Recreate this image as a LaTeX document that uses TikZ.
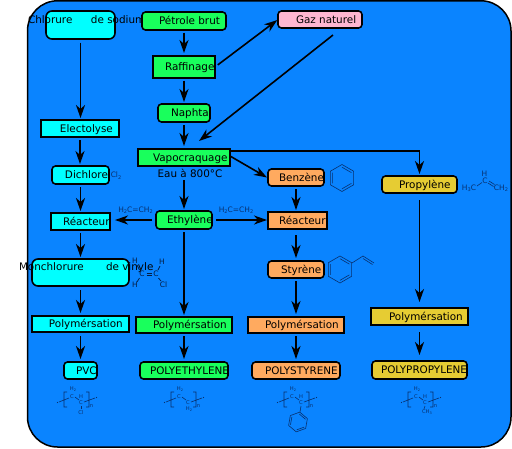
\documentclass[tikz,border=0pt]{standalone}
\usepackage{fontspec}
\setmainfont{DejaVu Sans}
\usetikzlibrary{arrows.meta}
\definecolor{bgblue}{HTML}{0A84FF}
\definecolor{vert}{HTML}{19FF5C}
\definecolor{cyanb}{HTML}{00FFFF}
\definecolor{orangeb}{HTML}{FFAA5F}
\definecolor{jaune}{HTML}{E6CC33}
\definecolor{rose}{HTML}{FFB6D0}
\definecolor{chemc}{HTML}{08306E}
\tikzset{
  x=1pt,y=-1pt,
  base/.style={draw=black,inner sep=0pt,outer sep=0pt,text height=7.3pt,text depth=0pt,font=\fontsize{10.4}{12}\selectfont,text=black},
  rbox/.style={base,line width=1.6pt,rounded corners=3.5pt},
  sbox/.style={base,line width=1.15pt},
  arr/.style={draw=black,line width=1.6pt,-{Stealth[length=13pt,width=9pt,inset=4pt]}},
  chem/.style={draw=chemc,line width=0.6pt},
  chemdark/.style={draw=chemc!60!black,line width=0.7pt},
  ctext/.style={inner sep=0pt,text=chemc,font=\fontsize{7.5}{8}\selectfont},
  cdark/.style={inner sep=0pt,text=chemc!60!black,font=\fontsize{7.5}{8}\selectfont},
  ptext/.style={inner sep=0pt,text=chemc,font=\fontsize{5.2}{6}\selectfont},
}
\newcommand\sbs[1]{\raisebox{-1.5pt}{\fontsize{5}{5}\selectfont #1}}
\newcommand\psbs[1]{\raisebox{-1pt}{\fontsize{3.5}{4}\selectfont #1}}
\newcommand\bx[8]{%
  \pgfmathsetmacro\bw{#4-#2}\pgfmathsetmacro\bh{#5-#3}\pgfmathsetmacro\bo{#7-#2}%
  \node[#6,minimum width=\bw pt,minimum height=\bh pt] (#1) at ({(#2+#4)/2},{(#3+#5)/2}) {\makebox[\bw pt][l]{\hspace{\bo pt}#8}};}
\newcommand\benz[4]{%
  \begin{scope}[shift={(#1,#2)},rotate=#4,scale=#3]
    \draw[chem] (90:1)--(30:1)--(-30:1)--(-90:1)--(-150:1)--(150:1)--cycle;
    \draw[chem] (150:.8)--(210:.8) (90:.8)--(30:.8) (-30:.8)--(-90:.8);
  \end{scope}}
\newcommand\polyb[3]{%
  \begin{scope}[shift={(#1,#2)}]
    \draw[chem] (-5,10)--(5,6) (3,0)--(0,0)--(0,15)--(3,15);
    \draw[chem] (22,0)--(25,0)--(25,15)--(22,15) (20,10)--(31,6);
    \draw[chem] (11,5)--(15,8);
    \fill[chemc] (-6.5,10.5) circle (.6) (32.5,5.5) circle (.6);
    \node[ptext] at (9,-3) {H\psbs{2}};
    \node[ptext] at (8,5) {C};
    \node[ptext] at (17,11) {C};
    \node[ptext] at (27.5,14) {n};
    #3
  \end{scope}}
\begin{document}
\begin{tikzpicture}
\useasboundingbox (0,0) rectangle (512,448);
\draw[fill=bgblue,draw=black,line width=1.5pt,rounded corners=30pt] (27.5,0.8) rectangle (511,447);

% boxes
\bx{chlorure}{46}{11}{115}{39}{rbox,fill=cyanb,rounded corners=6pt}{28}{\raisebox{5pt}{\makebox[63pt][l]{Chlorure}de sodium}}
\bx{petrole}{142}{12}{226}{30}{rbox,fill=vert}{159}{Pétrole brut}
\bx{raff}{153}{56}{215}{78}{sbox,fill=vert}{165}{Raffinage}
\bx{naphta}{158}{104}{210}{122}{rbox,fill=vert}{171}{Naphta}
\bx{vapo}{138}{149}{230}{166}{sbox,fill=vert}{153}{Vapocraquage}
\bx{elec}{41}{120}{119}{137}{sbox,fill=cyanb}{60}{Electolyse}
\bx{dichl}{52}{166}{109}{184}{rbox,fill=cyanb}{65}{Dichlore}
\bx{reacl}{51}{213}{110}{230}{sbox,fill=cyanb}{63}{Réacteur}
\bx{ethyl}{156}{211}{212}{229}{rbox,fill=vert}{167}{Ethylène}
\bx{gaz}{278}{11}{362}{28}{rbox,fill=rose}{296}{Gaz naturel}
\bx{benz}{268}{169}{324}{186}{rbox,fill=orangeb}{279}{Benzène}
\bx{reacm}{268}{212}{327}{229}{sbox,fill=orangeb}{279}{Réacteur}
\bx{prop}{382}{176}{457}{193}{rbox,fill=jaune}{399}{Propylène}
\bx{styr}{268}{261}{324}{278}{rbox,fill=orangeb}{281}{Styrène}
\bx{polyo}{248}{317}{344}{333}{sbox,fill=orangeb}{265}{Polymérsation}
\bx{ps}{252}{362}{340}{379}{rbox,fill=orangeb}{265}{POLYSTYRENE}
\bx{polyy}{371}{308}{468}{325}{sbox,fill=jaune}{389}{Polymérsation}
\bx{pp}{372}{361}{467}{379}{rbox,fill=jaune}{381}{POLYPROPYLENE}
\bx{mono}{32}{259}{129}{286}{rbox,fill=cyanb,rounded corners=6pt}{19}{\raisebox{5.5pt}{\makebox[87pt][l]{Monchlorure}de vinyle}}
\bx{polyc}{32}{316}{129}{332}{sbox,fill=cyanb}{49}{Polymérsation}
\bx{polyg}{136}{317}{232}{333}{sbox,fill=vert}{153}{Polymérsation}
\bx{pvc}{64}{362}{97}{379}{rbox,fill=cyanb}{76}{PVC}
\bx{pe}{140}{362}{228}{379}{rbox,fill=vert}{150}{POLYETHYLENE}
\node[inner sep=0pt,font=\fontsize{10.4}{12}\selectfont,text=black,text height=7.3pt,text depth=0pt] (eau) at (190,174) {Eau à 800°C};

% arrows
\draw[arr,shorten <=3.5pt,shorten >=2pt] (chlorure.south) -- (chlorure.south |- elec.north);
\draw[arr,shorten <=2.5pt,shorten >=3pt] (petrole.south) -- (petrole.south |- raff.north);
\draw[arr,shorten <=2.5pt,shorten >=2pt] (raff.south) -- (raff.south |- naphta.north);
\draw[arr,shorten <=3pt,shorten >=3pt] (naphta.south) -- (naphta.south |- vapo.north);
\draw[arr,shorten <=2.5pt,shorten >=2pt] ([xshift=-6pt]eau.south) -- (ethyl.north);
\draw[arr,shorten <=3pt,shorten >=2pt] (elec.south) -- (elec.south |- dichl.north);
\draw[arr,shorten <=3pt,shorten >=2pt] (dichl.south) -- (dichl.south |- reacl.north);
\draw[arr,shorten <=3pt,shorten >=2pt] (reacl.south) -- (reacl.south |- mono.north);
\draw[arr,shorten <=4pt,shorten >=3pt] (mono.south) -- (mono.south |- polyc.north);
\draw[arr,shorten <=4pt,shorten >=3pt] (polyc.south) -- (polyc.south |- pvc.north);
\draw[arr,shorten <=3pt,shorten >=2pt] (ethyl.south) -- (ethyl.south |- polyg.north);
\draw[arr,shorten <=3pt,shorten >=3pt] (polyg.south) -- (polyg.south |- pe.north);
\draw[arr,shorten <=4pt,shorten >=5pt] (ethyl.west) -- (ethyl.west -| reacl.east);
\draw[arr,shorten <=4pt,shorten >=1pt] (ethyl.east) -- (ethyl.east -| reacm.west);
\draw[arr,shorten <=3pt,shorten >=2pt] (benz.south) -- (benz.south |- reacm.north);
\draw[arr,shorten <=6pt,shorten >=3pt] (benz.south |- reacm.south) -- (benz.south |- styr.north);
\draw[arr,shorten <=3pt,shorten >=3pt] (styr.south) -- (styr.south |- polyo.north);
\draw[arr,shorten <=3pt,shorten >=3pt] (polyo.south) -- (polyo.south |- ps.north);
\draw[arr,shorten <=7pt,shorten >=6pt] (prop.south) -- (prop.south |- polyy.north);
\draw[arr,shorten <=7pt,shorten >=6pt] (polyy.south) -- (polyy.south |- pp.north);
\draw[arr,shorten <=3.5pt,shorten >=1pt] (raff.east) -- (gaz.west);
\draw[arr] ([xshift=13pt,yshift=-7pt]gaz.south) -- ([xshift=15pt,yshift=8pt]vapo.north);
\draw[arr,shorten >=2pt] ([yshift=-2pt]vapo.north east) -- ([yshift=-2pt]vapo.north east -| prop.north) -- (prop.north);
\draw[arr] ([yshift=1.5pt]vapo.east) -- ([xshift=-1pt]benz.west);

% chemistry labels
\node[ctext] (cl2) at (116,175.5) {Cl\sbs{2}};
\node[ctext] (ea) at (135.5,210) {H\sbs{2}C=CH\sbs{2}};
\node[ctext] (eb) at (236,210) {H\sbs{2}C=CH\sbs{2}};

\benz{342}{178}{13.5}{0}
\benz{340}{269.5}{13.5}{0}
\draw[chem] (352,263)--(363,256)--(374,263) (363,258.5)--(372.5,264.5);

\node[ctext] at (469,188) {H\sbs{3}C};
\node[ctext] at (485,180.5) {C};
\node[ctext] at (484.5,174) {H};
\node[ctext] at (501,188) {CH\sbs{2}};
\draw[chem] (477,186)--(482,182.5) (489,181)--(494.5,184.5) (488,183)--(493.5,186.5);

\node[cdark] at (142,274) {C};
\node[cdark] at (156,274) {C};
\node[cdark] at (135,261) {H};
\node[cdark] at (135,285) {H};
\node[cdark] at (162,262) {H};
\node[cdark] at (163.5,285) {Cl};
\draw[chemdark] (146.5,273)--(151.5,273) (146.5,275.5)--(151.5,275.5);
\draw[chemdark] (137,265)--(139.5,270) (137,282)--(139.5,278) (158,270)--(160,266) (158.5,278)--(161,281);

% polymer formulas
\polyb{64}{392}{\node[ptext] at (17,5) {H};\draw[chem] (17,14)--(17,17);\node[ptext] at (17,20.5) {Cl};}
\polyb{171}{392}{\node[ptext] at (18,17.5) {H\psbs{2}};}
\polyb{284}{392}{\node[ptext] at (17,5) {H};\draw[chem] (17,14)--(16,20);}
\benz{298}{422}{10}{-10}
\polyb{408}{392}{\node[ptext] at (17,5) {H};\draw[chem] (17,14)--(16,17);\node[ptext] at (19,20.5) {CH\psbs{3}};}
\end{tikzpicture}
\end{document}
